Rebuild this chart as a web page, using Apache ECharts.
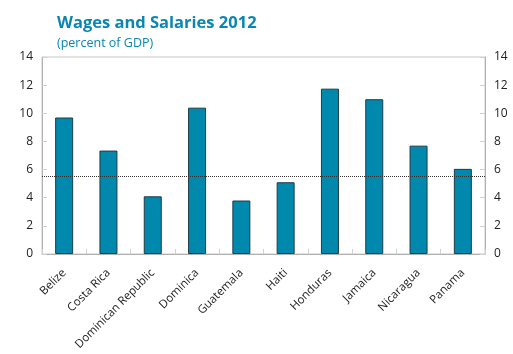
<!DOCTYPE html>
<html>
<head>
<meta charset="utf-8">
<script src="https://cdn.jsdelivr.net/npm/echarts@6/dist/echarts.min.js"></script>
<style>
  html, body { margin: 0; padding: 0; background: #fff; }
  #chart { width: 513px; height: 354px; }
</style>
</head>
<body>
<div id="chart"></div>
<script>
// Wages and salaries as a share of GDP, 2012
const countries = ['Belize', 'Costa Rica', 'Dominican Republic', 'Dominica', 'Guatemala',
  'Haiti', 'Honduras', 'Jamaica', 'Nicaragua', 'Panama'];
const wages = [9.7, 7.35, 4.1, 10.4, 3.8, 5.1, 11.75, 11.0, 7.7, 6.05];
const referenceLevel = 5.5;
const yTicks = { min: 0, max: 14, interval: 2 };

const font = '"Open Sans", "Noto Sans", sans-serif';
const chart = echarts.init(document.getElementById('chart'));

const yAxisBase = {
  type: 'value',
  min: yTicks.min,
  max: yTicks.max,
  interval: yTicks.interval,
  splitLine: { show: false },
  axisLine: { show: true, lineStyle: { color: '#b0b0b0', width: 1 } },
  axisTick: { show: true, inside: true, length: 5, lineStyle: { color: '#d0d0d0' } },
  axisLabel: { color: '#222', fontSize: 12, fontFamily: font, margin: 9 }
};

chart.setOption({
  animation: false,
  title: {
    text: 'Wages and Salaries 2012',
    subtext: '(percent of GDP)',
    left: 52,
    top: 10,
    itemGap: 5,
    textStyle: { color: '#0a86b0', fontSize: 16.5, fontWeight: 'bold', fontFamily: font },
    subtextStyle: { color: '#0a86b0', fontSize: 12.5, fontFamily: font }
  },
  grid: {
    left: 42, right: 28, top: 57, bottom: 100,
    show: true, borderColor: '#c8c8c8', borderWidth: 1
  },
  xAxis: {
    type: 'category',
    data: countries,
    boundaryGap: true,
    axisLine: { show: true, lineStyle: { color: '#b0b0b0' } },
    axisTick: { show: true, inside: true, length: 5, alignWithLabel: false, lineStyle: { color: '#d0d0d0' } },
    axisLabel: { rotate: 45, color: '#222', fontSize: 11.5, fontFamily: font, margin: 17, interval: 0 }
  },
  yAxis: [
    Object.assign({}, yAxisBase, { position: 'left' }),
    Object.assign({}, yAxisBase, { position: 'right' })
  ],
  series: [{
    type: 'bar',
    data: wages,
    barWidth: 18,
    itemStyle: { color: '#0088ad', borderColor: '#1e3c48', borderWidth: 1 },
    markLine: {
      silent: true,
      symbol: 'none',
      label: { show: false },
      lineStyle: { color: '#333', type: [1, 1], width: 1 },
      data: [{ yAxis: referenceLevel }]
    }
  }]
});
</script>
</body>
</html>
